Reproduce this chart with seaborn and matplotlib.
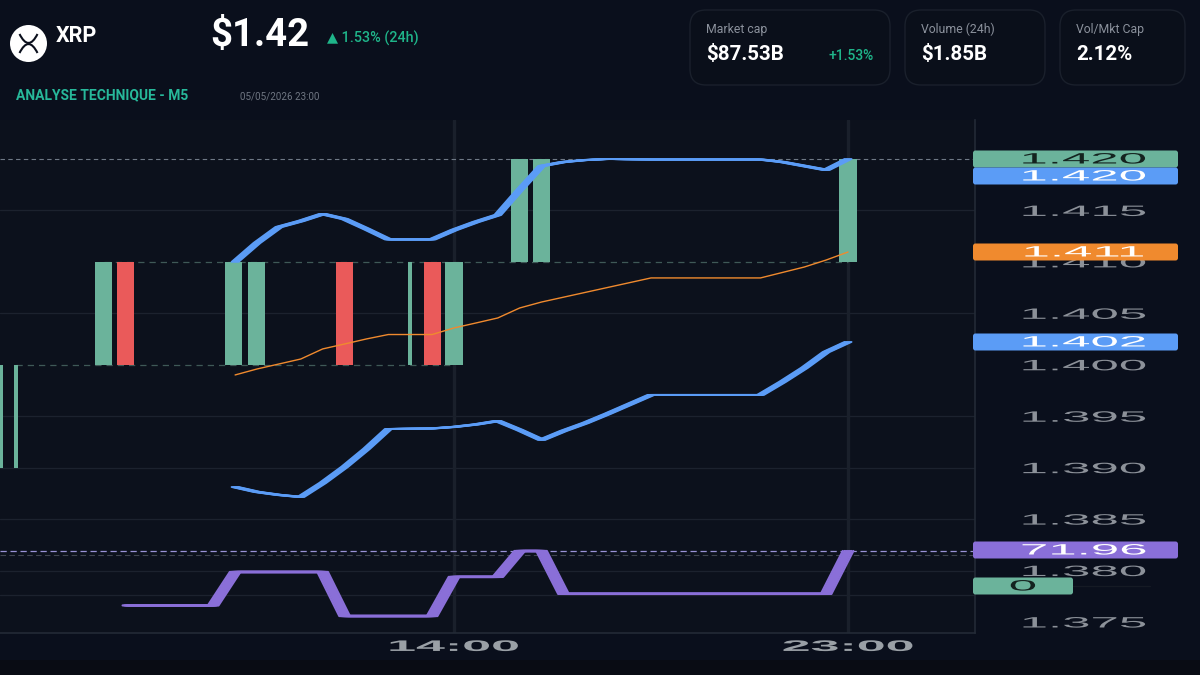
import matplotlib
matplotlib.use('Agg')
import matplotlib.pyplot as plt
import seaborn as sns
from matplotlib.patches import Ellipse, FancyBboxPatch, PathPatch, Rectangle
from matplotlib.path import Path
from matplotlib.patheffects import AbstractPathEffect
from matplotlib.transforms import Affine2D

# --- data (x = hour of day, y = price) ---
upper_hours = [9, 9.5, 10, 10.5, 11, 11.5, 12, 12.5, 13.5, 14, 14.5, 15, 15.5, 16, 16.5, 17, 17.5, 18.5, 21, 21.5, 22, 22.5, 23]
upper_band = [1.4100, 1.41184, 1.41339, 1.41397, 1.41466, 1.41417, 1.4132, 1.41218, 1.41218, 1.4131, 1.41388, 1.41456,
              1.41699, 1.41932, 1.41971, 1.4199, 1.4200, 1.41995, 1.41995, 1.41971, 1.41932, 1.41893, 1.4200]
lower_band = [1.38812, 1.38764, 1.38735, 1.38715, 1.38851, 1.39007, 1.39182, 1.39376, 1.39381, 1.39396, 1.3942, 1.39454,
              1.39366, 1.39269, 1.39357, 1.39434, 1.39522, 1.39707, 1.39707, 1.39833, 1.39969, 1.40124, 1.40222]

mid_hours = [9, 9.5, 10.5, 11, 11.5, 12, 12.5, 13.5, 14, 14.5, 15, 15.5, 16, 18.5, 21, 22, 22.5, 23]
mid_line = [1.39901, 1.39959, 1.40056, 1.40154, 1.40202, 1.40251, 1.40294, 1.40294, 1.40358, 1.40406, 1.40455, 1.40552,
            1.4061, 1.40844, 1.40844, 1.4095, 1.41018, 1.41096]

rsi_hours = [6.55, 8.5, 9, 11, 11.5, 13.5, 14, 15, 15.5, 16, 16.5, 22.5, 23]
rsi_line = [1.37661, 1.37661, 1.37986, 1.37986, 1.37558, 1.37558, 1.37938, 1.37938, 1.3819, 1.3819, 1.37773, 1.37773, 1.3819]

green_hours = [3.65, 4, 6, 8.97, 9.48, 13, 14, 15.5, 16, 23]
green_low = [1.39, 1.39, 1.40, 1.40, 1.40, 1.40, 1.40, 1.41, 1.41, 1.41]
green_high = [1.40, 1.40, 1.41, 1.41, 1.41, 1.41, 1.41, 1.42, 1.42, 1.42]
green_width = [0.08, 0.09, 0.39, 0.39, 0.39, 0.08, 0.39, 0.39, 0.39, 0.39]
red_hours = [6.5, 11.5, 13.5]
red_low = [1.40, 1.40, 1.40]
red_high = [1.41, 1.41, 1.41]

price_ticks = [1.375, 1.38, 1.385, 1.39, 1.395, 1.40, 1.405, 1.41, 1.415]
grid_levels = [1.38, 1.385, 1.39, 1.395, 1.405, 1.415]
time_ticks = [14, 23]
time_labels = ['14:00', '23:00']

BG = '#0a0f1c'
CHART = '#0c111c'
GRID = '#1c222e'
GREEN = '#6bb39b'
RED = '#ea5a5a'
BLUE = '#5b9cf6'
ORANGE = '#f08a2e'
PURPLE = '#8a6fd8'
MINT = '#1fb58a'


class StretchX(AbstractPathEffect):
    # the source picture is squashed, so glyphs get widened about their centre
    def __init__(self, factor):
        super().__init__()
        self.factor = factor

    def draw_path(self, renderer, gc, tpath, affine, rgbFace=None):
        box = tpath.get_extents(affine)
        cx = (box.x0 + box.x1) / 2
        wide = affine + Affine2D().translate(-cx, 0).scale(self.factor, 1).translate(cx, 0)
        renderer.draw_path(gc, tpath, wide, rgbFace)


sns.set_theme(style='dark', rc={'figure.facecolor': BG, 'axes.facecolor': CHART})
plt.rcParams['font.family'] = ['Roboto', 'DejaVu Sans']

fig = plt.figure(figsize=(12, 6.75), dpi=100)
ax = fig.add_axes([0, 1 - 633 / 675, 975 / 1200, 513 / 675])

# chart frame: px = 454 + (h - 14) * 43.78, py = 159 + (1.42 - p) * 10290
ax.set_xlim(3.63, 25.90)
ax.set_ylim(1.37393, 1.42379)

for level in grid_levels:
    ax.axhline(level, color=GRID, lw=0.9, zorder=1)
ax.axhline(1.37767, color=GRID, lw=0.9, zorder=1)
for hour in time_ticks:
    ax.axvline(hour, color='#1a202b', lw=2.4, zorder=1)
ax.axhline(1.42, color='#6f7986', lw=0.8, dashes=(4, 3), zorder=1.5)
ax.plot([6, 23], [1.41, 1.41], color='#3f5957', lw=0.9, dashes=(5, 4), zorder=1.5)
ax.plot([4, 14], [1.40, 1.40], color='#3f5957', lw=0.9, dashes=(5, 4), zorder=1.5)
ax.axhline(1.3819, color='#9a93d6', lw=0.9, dashes=(5, 3), zorder=1.5)
ax.axhline(1.38151, color='#40454f', lw=0.8, dashes=(5, 3), zorder=1.5)

ax.bar(green_hours, [h - l for h, l in zip(green_high, green_low)], bottom=green_low, width=green_width, color=GREEN, lw=0, zorder=2)
ax.bar(red_hours, [h - l for h, l in zip(red_high, red_low)], bottom=red_low, width=0.39, color=RED, lw=0, zorder=2)

# horizontal brush: steep parts of the lines come out thicker, as in the reference
for shift in [-0.08, -0.05, -0.025, 0, 0.025, 0.05, 0.08]:
    hours = [h + shift for h in upper_hours]
    sns.lineplot(x=hours, y=upper_band, ax=ax, color=BLUE, lw=1.35, sort=False, estimator=None, zorder=3)
    sns.lineplot(x=hours, y=lower_band, ax=ax, color=BLUE, lw=1.35, sort=False, estimator=None, zorder=3)
for shift in [-0.12, -0.08, -0.05, -0.025, 0, 0.025, 0.05, 0.08, 0.12]:
    sns.lineplot(x=[h + shift for h in rsi_hours], y=rsi_line, ax=ax, color=PURPLE, lw=1.6, sort=False, estimator=None, zorder=3)
sns.lineplot(x=mid_hours, y=mid_line, ax=ax, color=ORANGE, lw=1.0, sort=False, estimator=None, zorder=3)

for name, spine in ax.spines.items():
    spine.set_visible(name in ('right', 'bottom'))
    spine.set_color('#232a36')
    spine.set_linewidth(1.2)

ax.yaxis.tick_right()
ax.set_yticks(price_ticks)
ax.set_yticklabels(['%.3f' % p for p in price_ticks])
ax.set_xticks(time_ticks)
ax.set_xticklabels(time_labels)
ax.set_xlabel('')
ax.set_ylabel('')
ax.tick_params(axis='y', length=0, pad=65, labelsize=10.8, labelcolor='#8c9199')
ax.tick_params(axis='x', length=0, pad=5, labelsize=11, labelcolor='#9aa0a6')
for lab in ax.get_yticklabels():
    lab.set_family(['Liberation Sans', 'DejaVu Sans'])
    lab.set_path_effects([StretchX(3.4)])
for lab in ax.get_xticklabels():
    lab.set_family(['Liberation Sans', 'DejaVu Sans'])
    lab.set_fontweight('bold')
    lab.set_path_effects([StretchX(3.4)])

# overlay in pixel coordinates for the header, cards and price badges
hud = fig.add_axes([0, 0, 1, 1], facecolor='none')
hud.set_xlim(0, 1200)
hud.set_ylim(675, 0)
hud.axis('off')
hud.add_patch(Rectangle((0, 660), 1200, 15, color='#090c14', lw=0, zorder=0))
hud.plot([1073, 1150], [586, 586], color='#151a24', lw=0.9)


def put(x, y, s, size, color='white', weight='normal', ha='left'):
    return hud.text(x, y, s, fontsize=size, color=color, fontweight=weight, ha=ha, va='center',
                    family=['Roboto', 'DejaVu Sans'])


def card(x0, x1):
    hud.add_patch(FancyBboxPatch((x0, 10), x1 - x0, 75, boxstyle='round,pad=0,rounding_size=16',
                                 fc='#0a0f1a', ec='#1a202c', lw=1))


def badge(y, x1, s, fill, ink):
    hud.add_patch(FancyBboxPatch((973, y - 8.5), x1 - 973, 17, boxstyle='round,pad=0,rounding_size=2.5',
                                 fc=fill, ec='none', zorder=3))
    t = hud.text((973 + x1) / 2 if x1 < 1100 else 1084, y + 0.5, s, fontsize=10.8, color=ink, ha='center', va='center',
                 family=['Liberation Sans', 'DejaVu Sans'], zorder=4)
    t.set_path_effects([StretchX(3.4)])


badge(159, 1178, '1.420', GREEN, '#14231f')
badge(176, 1178, '1.420', BLUE, 'white')
badge(252, 1178, '1.411', ORANGE, 'white')
badge(342, 1178, '1.402', BLUE, 'white')
badge(550, 1178, '71.96', PURPLE, 'white')
badge(586, 1073, '0', GREEN, '#14231f')

# logo
hud.add_patch(Ellipse((28.5, 43.5), 37, 37, fc='white', ec='none'))
for verts in ([(19.5, 34), (28.5, 52), (37.5, 34)], [(19.5, 53), (28.5, 35), (37.5, 53)]):
    hud.add_patch(PathPatch(Path(verts, [Path.MOVETO, Path.CURVE3, Path.CURVE3]), fc='none', ec=BG, lw=1.5))

put(56, 36.5, 'XRP', 15.5, weight='bold')
put(210, 35, '$1.42', 27.5, weight='bold')
put(327, 38, '▲ 1.53% (24h)', 10.4, color=MINT, weight='medium')
put(16, 95.5, 'ANALYSE TECHNIQUE - M5', 10, color='#27b89a', weight='bold')
put(240, 96.5, '05/05/2026 23:00', 7.1, color='#6f7682')

card(690, 890)
card(905, 1045)
card(1060, 1185)
put(706, 29, 'Market cap', 8.8, color='#8b919c')
put(706, 54.5, '$87.53B', 14.8, weight='bold')
put(874, 56, '+1.53%', 10, color=MINT, weight='medium', ha='right')
put(921, 29, 'Volume (24h)', 8.8, color='#8b919c')
put(921, 54.5, '$1.85B', 14.8, weight='bold')
put(1076, 29, 'Vol/Mkt Cap', 8.8, color='#8b919c')
put(1076, 54.5, '2.12%', 14.8, weight='bold')

fig.savefig('out.png', dpi=100, facecolor=BG)
